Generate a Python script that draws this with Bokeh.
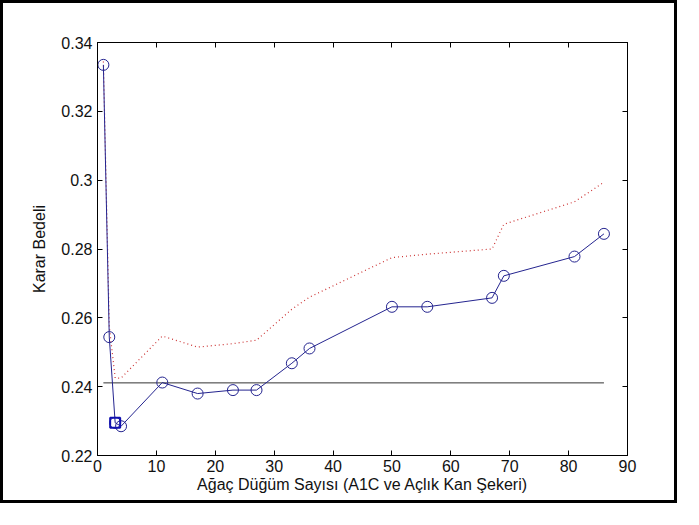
from bokeh.plotting import figure
from bokeh.models import LinearAxis, FixedTicker, CustomJSTickFormatter, Range1d
from bokeh.embed import file_html
from bokeh.resources import INLINE

# ---- data ----
nodes = [1, 2, 3, 4, 11, 17, 23, 27, 33, 36, 50, 56, 67, 69, 81, 86]
cost = [0.3335, 0.2544, 0.2295, 0.2285, 0.2412, 0.2380, 0.2390, 0.2390,
        0.2468, 0.2511, 0.2632, 0.2632, 0.2658, 0.2722, 0.2778, 0.2844]
cost_upper = [0.3345, 0.2575, 0.2425, 0.2425, 0.2547, 0.2515, 0.2525, 0.2535,
              0.2625, 0.2660, 0.2775, 0.2785, 0.2800, 0.2872, 0.2937, 0.2994]
threshold = 0.2411
best_node = [3]
best_cost = [0.2295]
x_ticks = [0, 10, 20, 30, 40, 50, 60, 70, 80, 90]
y_ticks = [0.22, 0.24, 0.26, 0.28, 0.30, 0.32, 0.34]
x_title = "Ağaç Düğüm Sayısı (A1C ve Açlık Kan Şekeri)"
y_title = "Karar Bedeli"

FONT = "Liberation Sans"
BLUE = "#24248f"
RED = "#cc3333"

p = figure(width=677, height=503,
           x_range=Range1d(0, 90), y_range=Range1d(0.22, 0.34),
           output_backend="svg", toolbar_location=None,
           x_axis_location=None, y_axis_location=None,
           min_border_left=94, min_border_top=39,
           min_border_right=53, min_border_bottom=51)
p.styles = {"border": "3px solid black"}
p.grid.visible = False
p.outline_line_color = "black"
p.outline_line_width = 1
p.background_fill_color = "white"
p.border_fill_color = "white"

yfmt = CustomJSTickFormatter(code="return tick.toFixed(2).replace(/0$/, '');")

def style_axis(ax, show_labels):
    ax.axis_line_color = "black"
    ax.major_tick_in = 5
    ax.major_tick_out = 0
    ax.major_tick_line_color = "black"
    ax.minor_tick_line_color = None
    ax.major_label_text_font = FONT
    ax.major_label_text_font_size = "16px"
    ax.major_label_text_color = "#111111" if show_labels else None
    ax.axis_label_text_font = FONT
    ax.axis_label_text_font_size = "16px"
    ax.axis_label_text_font_style = "normal"
    ax.axis_label_text_color = "#111111"

bottom = LinearAxis(ticker=FixedTicker(ticks=x_ticks), axis_label=x_title)
style_axis(bottom, True)
bottom.major_label_standoff = 4
bottom.axis_label_standoff = 1
p.add_layout(bottom, "below")

left = LinearAxis(ticker=FixedTicker(ticks=y_ticks), axis_label=y_title, formatter=yfmt)
style_axis(left, True)
left.major_label_standoff = 5
left.axis_label_standoff = 10
p.add_layout(left, "left")

top = LinearAxis(ticker=FixedTicker(ticks=x_ticks))
style_axis(top, False)
p.add_layout(top, "above")

right = LinearAxis(ticker=FixedTicker(ticks=y_ticks))
style_axis(right, False)
p.add_layout(right, "right")

# upper bound (dotted red)
p.line(nodes, cost_upper, line_color=RED, line_width=1.2, line_dash="1 3")
# threshold line
p.line([nodes[0], nodes[-1]], [threshold, threshold], line_color="#333333", line_width=1)
# cost line with circles
p.line(nodes, cost, line_color=BLUE, line_width=1)
p.scatter(nodes, cost, marker="circle", size=11, fill_color=None,
          line_color=BLUE, line_width=1)
# best level square
p.scatter(best_node, best_cost, marker="square", size=10, fill_color=None,
          line_color="#1010b0", line_width=2)

open("out.html", "w").write(file_html(p, INLINE))
